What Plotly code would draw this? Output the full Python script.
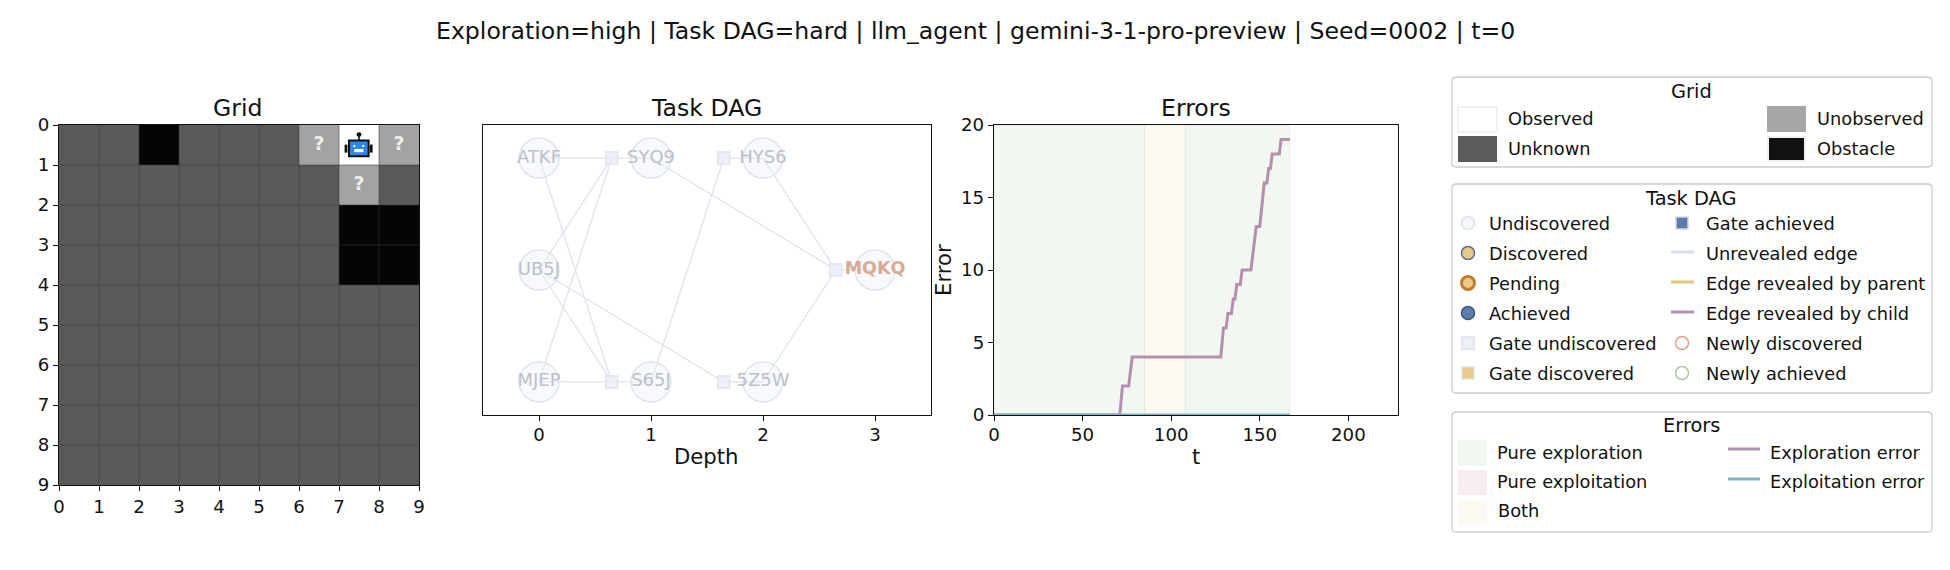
import plotly.graph_objects as go

FONT = "DejaVu Sans"
W, H = 1950, 570

# Grid cells: 0 unknown, 1 unobserved, 2 observed, 3 obstacle
grid_cells = [
    [0, 0, 3, 0, 0, 0, 1, 2, 1],
    [0, 0, 0, 0, 0, 0, 0, 1, 0],
    [0, 0, 0, 0, 0, 0, 0, 3, 3],
    [0, 0, 0, 0, 0, 0, 0, 3, 3],
    [0, 0, 0, 0, 0, 0, 0, 0, 0],
    [0, 0, 0, 0, 0, 0, 0, 0, 0],
    [0, 0, 0, 0, 0, 0, 0, 0, 0],
    [0, 0, 0, 0, 0, 0, 0, 0, 0],
    [0, 0, 0, 0, 0, 0, 0, 0, 0],
]
cell_centers = [0.5, 1.5, 2.5, 3.5, 4.5, 5.5, 6.5, 7.5, 8.5]
grid_ticks = [0, 1, 2, 3, 4, 5, 6, 7, 8, 9]
question_x = [6.5, 8.5, 7.5]
question_y = [0.5, 0.5, 1.5]

# Task DAG
node_names = ["ATKF", "UB5J", "MJEP", "SYQ9", "S65J", "HYS6", "5Z5W", "MQKQ"]
node_depth = [0, 0, 0, 1, 1, 2, 2, 3]
node_row = [1, 0, -1, 1, -1, 1, -1, 0]
gate_depth = [0.65, 0.65, 1.65, 1.65, 2.65]
gate_row = [1, -1, 1, -1, 0]
edge_x = [0, 0.65, None, 0, 0.65, None, 0, 0.65, None, 0, 0.65, None, 0, 0.65, None, 0, 0.65, None,
          0.65, 1, None, 0.65, 1, None, 1, 1.65, None, 0, 1.65, None, 1.65, 2, None, 1.65, 2, None,
          1, 2.65, None, 2, 2.65, None, 2, 2.65, None, 2.65, 3]
edge_y = [1, 1, None, 0, 1, None, -1, 1, None, 1, -1, None, 0, -1, None, -1, -1, None,
          1, 1, None, -1, -1, None, -1, 1, None, 0, -1, None, 1, 1, None, -1, -1, None,
          1, 0, None, 1, 0, None, -1, 0, None, 0, 0]
depth_ticks = [0, 1, 2, 3]

# Errors
error_t = [0, 71, 72.5, 76, 78, 128, 129.5, 131, 132, 134, 135, 136, 137, 139, 140, 145, 148, 150,
           152.5, 154, 155, 156, 157, 161, 162, 167]
explore_err = [0, 0, 2, 2, 4, 4, 6, 6, 7, 7, 8, 8, 9, 9, 10, 10, 13, 13, 16, 16, 17, 17, 18, 18, 19, 19]
exploit_t = [0, 167]
exploit_err = [0, 0]
span_start = [0, 85, 108]
span_end = [85, 108, 167]
span_kind = ["explore", "both", "explore"]
t_ticks = [0, 50, 100, 150, 200]
err_ticks = [0, 5, 10, 15, 20]

EXPLORE = "#b48fae"
EXPLOIT = "#80b3cb"
UNREVEALED = "#d9deeb"
span_colors = {"explore": "#f3f7f2", "exploit": "#f7ecee", "both": "#fcf9f3"}

fig = go.Figure()

# Grid panel
fig.add_trace(go.Heatmap(z=grid_cells, x=cell_centers, y=cell_centers, xaxis="x", yaxis="y", zmin=0, zmax=3,
                         showscale=False, hoverinfo="skip",
                         colorscale=[[0, "#595959"], [0.25, "#595959"], [0.25, "#a3a3a3"], [0.5, "#a3a3a3"],
                                     [0.5, "#ffffff"], [0.75, "#ffffff"], [0.75, "#050505"], [1, "#050505"]]))
for v in grid_ticks[1:-1]:
    fig.add_shape(type="line", xref="x", yref="y", x0=v, x1=v, y0=0, y1=9, line=dict(color="rgba(60,60,60,0.55)", width=1))
    fig.add_shape(type="line", xref="x", yref="y", x0=0, x1=9, y0=v, y1=v, line=dict(color="rgba(60,60,60,0.55)", width=1))
fig.add_trace(go.Scatter(x=question_x, y=question_y, mode="text", text=["?"] * 3, xaxis="x", yaxis="y",
                         showlegend=False, hoverinfo="skip",
                         textfont=dict(family=FONT, size=19, color="#eeeeee", weight="bold")))

# Robot drawn over the observed cell
robot = dict(xref="x", yref="y", layer="above")
fig.add_shape(type="rect", x0=7.14, x1=7.21, y0=0.49, y1=0.69, fillcolor="#111111", line_width=0, **robot)
fig.add_shape(type="rect", x0=7.77, x1=7.84, y0=0.49, y1=0.69, fillcolor="#111111", line_width=0, **robot)
fig.add_shape(type="rect", x0=7.48, x1=7.52, y0=0.24, y1=0.4, fillcolor="#111111", line_width=0, **robot)
fig.add_shape(type="circle", x0=7.44, x1=7.56, y0=0.18, y1=0.3, fillcolor="#111111", line_width=0, **robot)
fig.add_shape(type="rect", x0=7.25, x1=7.74, y0=0.39, y1=0.78, fillcolor="#2f86f0", line=dict(color="#111111", width=2), **robot)
fig.add_shape(type="rect", x0=7.36, x1=7.41, y0=0.5, y1=0.55, fillcolor="#ffffff", line_width=0, **robot)
fig.add_shape(type="rect", x0=7.58, x1=7.63, y0=0.5, y1=0.55, fillcolor="#ffffff", line_width=0, **robot)
fig.add_shape(type="rect", x0=7.38, x1=7.61, y0=0.6, y1=0.68, fillcolor="#ffffff", line_width=0, **robot)

# Task DAG panel
fig.add_trace(go.Scatter(x=edge_x, y=edge_y, mode="lines", xaxis="x2", yaxis="y2", showlegend=False, hoverinfo="skip",
                         line=dict(color="#dfe3ee", width=1.3)))
fig.add_trace(go.Scatter(x=node_depth, y=node_row, mode="markers", xaxis="x2", yaxis="y2", showlegend=False, hoverinfo="skip",
                         marker=dict(size=40, color="rgba(238,241,248,0.4)", line=dict(color="#dfe3ef", width=1.4))))
fig.add_trace(go.Scatter(x=gate_depth, y=gate_row, mode="markers", xaxis="x2", yaxis="y2", showlegend=False, hoverinfo="skip",
                         marker=dict(size=12, symbol="square", color="rgba(235,238,246,0.8)", line=dict(color="#dfe3ef", width=1.4))))
fig.add_trace(go.Scatter(x=node_depth[:7], y=node_row[:7], mode="text", text=node_names[:7], xaxis="x2", yaxis="y2",
                         showlegend=False, hoverinfo="skip", textfont=dict(family=FONT, size=18, color="#bcc0ca")))
fig.add_trace(go.Scatter(x=node_depth[7:], y=node_row[7:], mode="text", text=node_names[7:], xaxis="x2", yaxis="y2",
                         showlegend=False, hoverinfo="skip", textfont=dict(family=FONT, size=17.5, color="#dba994", weight="bold")))

# Errors panel
for start, end, kind in zip(span_start, span_end, span_kind):
    fig.add_shape(type="rect", xref="x3", yref="y3", x0=start, x1=end, y0=0, y1=20, layer="below",
                  fillcolor=span_colors[kind], line=dict(color="rgba(200,205,180,0.3)", width=1))
fig.add_trace(go.Scatter(x=error_t, y=explore_err, mode="lines", xaxis="x3", yaxis="y3", showlegend=False, hoverinfo="skip",
                         line=dict(color=EXPLORE, width=3)))
fig.add_trace(go.Scatter(x=exploit_t, y=exploit_err, mode="lines", xaxis="x3", yaxis="y3", showlegend=False, hoverinfo="skip",
                         line=dict(color=EXPLOIT, width=3)))

# Overlay in page pixels for the legends and titles
def label(x, y, text, size=17.8, anchor="left", angle=0):
    fig.add_annotation(xref="x4", yref="y4", x=x, y=y, text=text, showarrow=False, xanchor=anchor, yanchor="middle",
                       textangle=angle, font=dict(family=FONT, size=size, color="#111111"))

def box(x0, y0, x1, y1, r=4):
    path = (f"M {x0+r} {y0} L {x1-r} {y0} Q {x1} {y0} {x1} {y0+r} L {x1} {y1-r} Q {x1} {y1} {x1-r} {y1} "
            f"L {x0+r} {y1} Q {x0} {y1} {x0} {y1-r} L {x0} {y0+r} Q {x0} {y0} {x0+r} {y0} Z")
    fig.add_shape(type="path", xref="x4", yref="y4", path=path, fillcolor="white", layer="below",
                  line=dict(color="#cccccc", width=1.3))

def swatch(x0, y0, x1, y1, color, edge=None):
    fig.add_shape(type="rect", xref="x4", yref="y4", x0=x0, x1=x1, y0=y0, y1=y1, fillcolor=color,
                  line=dict(color=edge or color, width=2 if edge else 0))

def key_line(x0, x1, y, color):
    fig.add_shape(type="line", xref="x4", yref="y4", x0=x0, x1=x1, y0=y, y1=y, line=dict(color=color, width=3))

def key_marker(x, y, symbol, size, color, edge, width):
    fig.add_trace(go.Scatter(x=[x], y=[y], mode="markers", xaxis="x4", yaxis="y4", showlegend=False, hoverinfo="skip",
                             marker=dict(symbol=symbol, size=size, color=color, line=dict(color=edge, width=width))))

label(975, 31, "Exploration=high | Task DAG=hard | llm_agent | gemini-3-1-pro-preview | Seed=0002 | t=0", 23.6, "center")
label(238, 108, "Grid", 23.6, "center")
label(706, 108, "Task DAG", 23.6, "center")
label(1196, 108, "Errors", 23.6, "center")
label(706, 456, "Depth", 21.2, "center")
label(1196, 456, "t", 21.2, "center")
label(943, 270, "Error", 21.2, "center", -90)

box(1452, 77, 1932, 167)
label(1691, 91, "Grid", 19.4, "center")
swatch(1458, 107, 1497, 132, "#ffffff", "#eff1f6")
swatch(1458, 136, 1497, 162, "#5b5b5b")
swatch(1767, 106, 1806, 132, "#a6a6a6")
swatch(1768, 137, 1805, 161, "#111111", "#eff1f6")
label(1506, 118, "Observed")
label(1506, 148, "Unknown")
label(1815, 118, "Unobserved")
label(1815, 148, "Obstacle")

box(1452, 184, 1932, 393)
label(1691, 198, "Task DAG", 19.4, "center")
key_marker(1468, 223, "circle", 13, "#f5f7fb", "#dde3f0", 1.5)
key_marker(1468, 253, "circle", 13, "#e8c98a", "#5f6f8c", 1.5)
key_marker(1468, 283, "circle", 13, "#e8c98a", "#bf7f30", 3)
key_marker(1468, 313, "circle", 13, "#5b7fa8", "#3f5a80", 1.5)
key_marker(1468, 343, "square", 12, "#eef0f7", "#dde1ec", 1.5)
key_marker(1468, 373, "square", 12, "#ecca8a", "#dfe2ec", 1.5)
key_marker(1682, 223, "square", 12, "#5a7eab", "#d0d6e6", 1.5)
key_line(1671, 1694, 252, UNREVEALED)
key_line(1671, 1694, 282, "#e8c47f")
key_line(1671, 1694, 312, EXPLORE)
key_marker(1682, 343, "circle", 13, "rgba(0,0,0,0)", "#d9a48f", 1.5)
key_marker(1682, 373, "circle", 13, "rgba(0,0,0,0)", "#afc7a5", 1.5)
for y, text in zip([223, 253, 283, 313, 343, 373],
                   ["Undiscovered", "Discovered", "Pending", "Achieved", "Gate undiscovered", "Gate discovered"]):
    label(1487, y, text)
for y, text in zip([223, 253, 283, 313, 343, 373],
                   ["Gate achieved", "Unrevealed edge", "Edge revealed by parent", "Edge revealed by child",
                    "Newly discovered", "Newly achieved"]):
    label(1704, y, text)

box(1452, 412, 1932, 532)
label(1691, 425, "Errors", 19.4, "center")
swatch(1458, 440, 1487, 466, span_colors["explore"])
swatch(1458, 470, 1487, 495, span_colors["exploit"])
swatch(1458, 500, 1487, 525, span_colors["both"])
label(1495, 452, "Pure exploration")
label(1495, 481, "Pure exploitation")
label(1496, 510, "Both")
key_line(1728, 1760, 449, EXPLORE)
key_line(1728, 1760, 479, EXPLOIT)
label(1768, 452, "Exploration error")
label(1768, 481, "Exploitation error")

axis_style = dict(showgrid=False, zeroline=False, showline=True, mirror=True, linecolor="#111111", linewidth=1.3,
                  ticks="outside", ticklen=5, tickwidth=1.2, tickcolor="#111111", layer="above traces",
                  tickfont=dict(family=FONT, size=18.2, color="#111111"))

def dom(a, b, total):
    return [a / total, b / total]

# plot_bgcolor has to stay clear: the page-wide overlay subplot would paint over the panels
fig.update_layout(
    width=W, height=H, margin=dict(l=0, r=0, t=0, b=0, autoexpand=False), paper_bgcolor="white",
    plot_bgcolor="rgba(0,0,0,0)", showlegend=False, font=dict(family=FONT),
    xaxis=dict(domain=dom(59, 419, W), range=[0, 9], tickvals=grid_ticks, anchor="y", **axis_style),
    yaxis=dict(domain=[1 - 485 / H, 1 - 125 / H], range=[9, 0], tickvals=grid_ticks, anchor="x", **axis_style),
    xaxis2=dict(domain=dom(483, 931, W), range=[-0.5, 3.5], tickvals=depth_ticks, anchor="y2", ticklabelstandoff=-2, **axis_style),
    yaxis2=dict(domain=[1 - 415 / H, 1 - 125 / H], range=[-1.295, 1.295], anchor="x2", showticklabels=False,
                **{**axis_style, "ticks": ""}),
    xaxis3=dict(domain=dom(994, 1398, W), range=[0, 228], tickvals=t_ticks, anchor="y3", ticklabelstandoff=-2, **axis_style),
    yaxis3=dict(domain=[1 - 415 / H, 1 - 125 / H], range=[0, 20], tickvals=err_ticks, anchor="x3", **axis_style),
    xaxis4=dict(domain=[0, 1], range=[0, W], visible=False, anchor="y4"),
    yaxis4=dict(domain=[0, 1], range=[H, 0], visible=False, anchor="x4"),
)

fig.write_html("out.html", config=dict(displayModeBar=False), post_script="document.body.style.margin = '0';")
